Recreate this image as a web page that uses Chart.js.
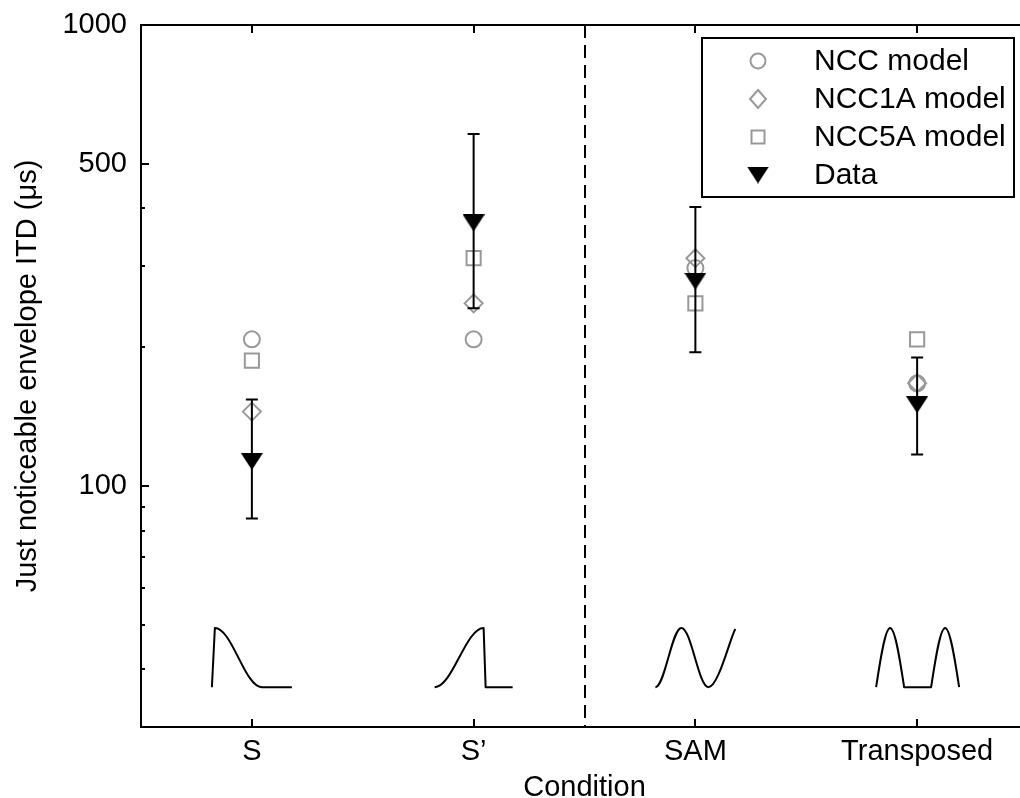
<!DOCTYPE html>
<html lang="en">
<head>
<meta charset="utf-8">
<title>Just noticeable envelope ITD</title>
<script src="https://cdn.jsdelivr.net/npm/chart.js"></script>
<style>
    html, body { margin: 0; padding: 0; background: #fff; overflow: hidden; }
    #wrap { width: 1020px; height: 798px; overflow: hidden; }
    #chart { display: block; }
</style>
</head>
<body>
<div id="wrap"><canvas id="chart" width="1040" height="798"></canvas></div>
<script>
// values (microseconds)
const categories = ['S', 'S’', 'SAM', 'Transposed'];
const nccModel   = [208, 208, 297, 167];
const ncc1aModel = [145, 249, 312, 167];
const ncc5aModel = [187, 312, 249, 208];
const dataMean   = [113, 372, 278, 150];
const dataLow    = [85, 243, 195, 117];
const dataHigh   = [154, 580, 403, 190];
const yTickValues = [40, 50, 60, 70, 80, 90, 100, 200, 300, 400, 500, 1000];
const yTickLabels = [100, 500, 1000];

const GRAY = '#999999';
const FONT = "'Liberation Sans', Arial, Helvetica, sans-serif";
Chart.defaults.font.family = FONT;
Chart.defaults.font.size = 29;
Chart.defaults.color = '#000';

// MATLAB style downward triangle, centred on its bounding box
function makeTriangle(w, h) {
    const c = document.createElement('canvas');
    c.width = w; c.height = h;
    const g = c.getContext('2d');
    g.fillStyle = '#000';
    g.beginPath();
    g.moveTo(0, 0); g.lineTo(w, 0); g.lineTo(w / 2, h);
    g.closePath(); g.fill();
    return c;
}
const triangle = makeTriangle(22, 17);

const toPoints = arr => arr.map((v, i) => ({ x: i + 1, y: v }));

// small waveform sketches under each condition (pixel offsets from tick, level 0..1)
function cosEase(ctx, x0, y0, x1, y1) {
    const w = x1 - x0;
    ctx.bezierCurveTo(x0 + 0.364 * w, y0, x1 - 0.364 * w, y1, x1, y1);
}
function lobe(ctx, x0, x1, yb, yt) {
    const m = (x0 + x1) / 2, hw = (x1 - x0) / 2;
    ctx.bezierCurveTo(x0 + 0.325 * hw, yb + 0.511 * (yt - yb), m - 0.34 * hw, yt, m, yt);
    ctx.bezierCurveTo(m + 0.34 * hw, yt, x1 - 0.325 * hw, yb + 0.511 * (yt - yb), x1, yb);
}
const iconDrawers = [
    (ctx, c, b, t) => { ctx.moveTo(c - 40, b); ctx.lineTo(c - 37, t); cosEase(ctx, c - 37, t, c + 10, b); ctx.lineTo(c + 40, b); },
    (ctx, c, b, t) => { ctx.moveTo(c - 39, b); cosEase(ctx, c - 39, b, c + 10, t); ctx.lineTo(c + 12, b); ctx.lineTo(c + 39, b); },
    (ctx, c, b, t) => {
        ctx.moveTo(c - 40, b); cosEase(ctx, c - 40, b, c - 14, t); cosEase(ctx, c - 14, t, c + 13, b);
        ctx.bezierCurveTo(c + 23, b, c + 35, b + 0.85 * (t - b), c + 40, t + 1);
    },
    (ctx, c, b, t) => {
        ctx.moveTo(c - 41, b); lobe(ctx, c - 41, c - 13, b, t); ctx.lineTo(c + 14, b);
        lobe(ctx, c + 14, c + 42, b, t);
    }
];

const decor = {
    id: 'decor',
    beforeDatasetsDraw(chart) {
        const { ctx, chartArea: a, scales: { x, y } } = chart;
        ctx.save();
        ctx.strokeStyle = '#000';
        ctx.lineWidth = 2;
        ctx.lineCap = 'butt';
        // top and right frame
        ctx.beginPath();
        ctx.moveTo(a.left, a.top); ctx.lineTo(a.right, a.top); ctx.lineTo(a.right, a.bottom);
        ctx.stroke();
        // inward ticks
        ctx.beginPath();
        yTickValues.forEach(v => {
            const py = Math.round(y.getPixelForValue(v));
            const len = yTickLabels.includes(v) ? 8 : 4;
            ctx.moveTo(a.left, py); ctx.lineTo(a.left + len, py);
        });
        categories.forEach((c, i) => {
            const px = Math.round(x.getPixelForValue(i + 1));
            ctx.moveTo(px, a.bottom); ctx.lineTo(px, a.bottom - 8);
            ctx.moveTo(px, a.top); ctx.lineTo(px, a.top + 8);
        });
        ctx.stroke();
        // dashed divider between S' and SAM
        const dx = Math.round(x.getPixelForValue(2.5));
        ctx.setLineDash([13, 7]);
        ctx.beginPath();
        ctx.moveTo(dx, a.top); ctx.lineTo(dx, a.bottom);
        ctx.stroke();
        ctx.setLineDash([]);
        // waveform icons
        const b = y.getPixelForValue(36.6), t = y.getPixelForValue(49.2);
        ctx.lineWidth = 2;
        ctx.lineJoin = 'round';
        iconDrawers.forEach((draw, i) => {
            ctx.beginPath();
            draw(ctx, x.getPixelForValue(i + 1), b, t);
            ctx.stroke();
        });
        ctx.restore();
    },
    afterDatasetsDraw(chart) {
        const { ctx, scales: { x, y } } = chart;
        ctx.save();
        ctx.strokeStyle = '#000';
        ctx.lineWidth = 2;
        ctx.beginPath();
        dataMean.forEach((m, i) => {
            const px = x.getPixelForValue(i + 1);
            const lo = y.getPixelForValue(dataLow[i]), hi = y.getPixelForValue(dataHigh[i]);
            ctx.moveTo(px, lo); ctx.lineTo(px, hi);
            ctx.moveTo(px - 6, lo); ctx.lineTo(px + 6, lo);
            ctx.moveTo(px - 6, hi); ctx.lineTo(px + 6, hi);
        });
        ctx.stroke();
        ctx.restore();
    },
    afterDraw(chart) {
        const { ctx, chartArea: a } = chart;
        const x1 = a.right - 14, x0 = x1 - 312, y0 = a.top + 13, y1 = y0 + 159;
        ctx.save();
        ctx.fillStyle = '#fff';
        ctx.fillRect(x0, y0, x1 - x0, y1 - y0);
        ctx.strokeStyle = '#000';
        ctx.lineWidth = 2;
        ctx.strokeRect(x0, y0, x1 - x0, y1 - y0);
        ctx.font = '30px ' + FONT;
        ctx.textBaseline = 'middle';
        ctx.textAlign = 'left';
        const mx = x0 + 56;
        chart.data.datasets.forEach((ds, i) => {
            const ry = y0 + 23 + i * 38;
            ctx.strokeStyle = GRAY;
            ctx.lineWidth = 2;
            ctx.beginPath();
            if (ds.pointStyle === 'circle') {
                ctx.arc(mx, ry, 7.5, 0, Math.PI * 2);
                ctx.stroke();
            } else if (ds.pointStyle === 'rectRot') {
                ctx.moveTo(mx, ry - 9); ctx.lineTo(mx + 8, ry); ctx.lineTo(mx, ry + 9); ctx.lineTo(mx - 8, ry);
                ctx.closePath(); ctx.stroke();
            } else if (ds.pointStyle === 'rect') {
                ctx.rect(mx - 6.5, ry - 6.5, 13, 13);
                ctx.stroke();
            } else {
                ctx.drawImage(triangle, mx - 11, ry - 8.5);
            }
            ctx.fillStyle = '#000';
            ctx.fillText(ds.label, x0 + 112, ry + 1);
        });
        ctx.restore();
    }
};

new Chart(document.getElementById('chart'), {
    type: 'scatter',
    data: {
        datasets: [
            { label: 'NCC model', data: toPoints(nccModel), pointStyle: 'circle', pointRadius: 8,
              borderColor: GRAY, backgroundColor: 'rgba(0,0,0,0)', borderWidth: 2, order: 3 },
            { label: 'NCC1A model', data: toPoints(ncc1aModel), pointStyle: 'rectRot', pointRadius: 9,
              borderColor: GRAY, backgroundColor: 'rgba(0,0,0,0)', borderWidth: 2, order: 2 },
            { label: 'NCC5A model', data: toPoints(ncc5aModel), pointStyle: 'rect', pointRadius: 10,
              borderColor: GRAY, backgroundColor: 'rgba(0,0,0,0)', borderWidth: 2, order: 1 },
            { label: 'Data', data: toPoints(dataMean), pointStyle: triangle,
              borderColor: '#000', backgroundColor: '#000', order: 0 }
        ]
    },
    options: {
        responsive: false,
        animation: false,
        events: [],
        layout: { padding: { left: 0, top: 25, right: 11, bottom: 0 } },
        plugins: { legend: { display: false }, tooltip: { enabled: false } },
        scales: {
            x: {
                type: 'linear', min: 0.5, max: 4.5,
                afterBuildTicks: s => { s.ticks = categories.map((c, i) => ({ value: i + 1 })); },
                afterFit: s => { s.height = 71; s.paddingLeft = 0; s.paddingRight = 0; },
                ticks: { autoSkip: false, maxRotation: 0, padding: 8,
                         callback: v => categories[v - 1] ?? '' },
                grid: { display: false, drawTicks: false },
                border: { display: true, color: '#000', width: 2 },
                title: { display: true, text: 'Condition', padding: { top: 0, bottom: -7 } }
            },
            y: {
                type: 'logarithmic', min: 30, max: 1000,
                afterBuildTicks: s => { s.ticks = yTickValues.map(v => ({ value: v })); },
                afterFit: s => { s.width = 141; s.paddingTop = 0; s.paddingBottom = 0; },
                ticks: { autoSkip: false, padding: 14,
                         callback: v => yTickLabels.includes(v) ? String(v) : '' },
                grid: { display: false, drawTicks: false },
                border: { display: true, color: '#000', width: 2 },
                title: { display: true, text: 'Just noticeable envelope ITD (μs)', padding: { top: 11, bottom: 0 } }
            }
        }
    },
    plugins: [decor]
});
</script>
</body>
</html>
